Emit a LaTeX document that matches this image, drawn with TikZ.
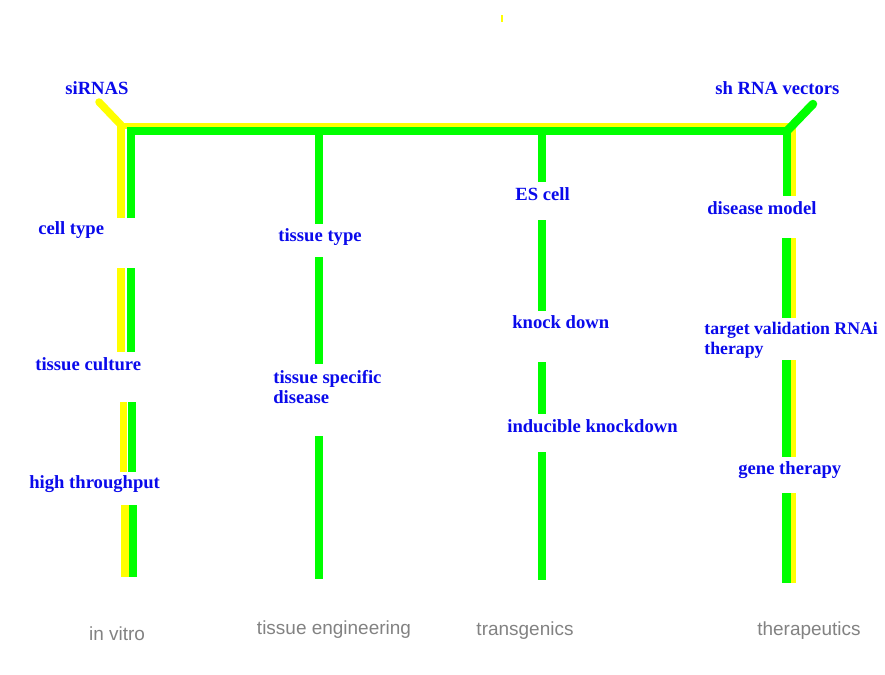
\documentclass[tikz,border=0pt]{standalone}
\usepackage{fontspec}
\setmainfont{Liberation Serif}
\newfontfamily\catfont{Liberation Sans}
\usetikzlibrary{positioning}
\definecolor{barGreen}{RGB}{0,255,0}
\definecolor{barYellow}{RGB}{255,255,0}
\definecolor{lblBlue}{RGB}{10,10,235}
\definecolor{catGray}{RGB}{130,130,130}
\tikzstyle{gbar} = [
  line width=0.17cm,
  barGreen,
]
\tikzstyle{ybar} = [
  line width=0.15cm,
  barYellow,
]
\tikzstyle{lbl} = [
  inner sep=0pt,
  anchor=west,
  align=left,
  text=lblBlue,
  font=\fontsize{10.6}{11.3}\selectfont\bfseries,
]
\tikzstyle{cat} = [
  inner sep=0pt,
  text=catGray,
  font=\catfont\fontsize{10.8}{13}\selectfont,
]

\begin{document}
\begin{tikzpicture}[x=0.02cm,y=-0.02cm]
  \useasboundingbox (0,0) rectangle (885,674);

  % yellow lines (behind)
  \draw[ybar,line cap=round] (99,102) -- (121,125);
  \draw[ybar,line width=0.12cm] (117,126) -- (792,126);
  \foreach \ya/\yb/\xx in {124/218/121,268/352/121,402/472/123.5,505/577/125}
    \draw[ybar] (\xx,\ya) -- (\xx,\yb);
  \foreach \ya/\yb in {124/196,238/318,360/457,493/583}
    \draw[ybar] (792.5,\ya) -- (792.5,\yb);
  \draw[barYellow,line width=0.04cm] (502,15) -- (502,22);

  % green lines
  \draw[gbar] (131,218) -- (131,131) -- (787,131) -- (787,196);
  \draw[gbar,line cap=round] (787,131) -- (813,104);
  \foreach \ya/\yb/\xx in {268/352/131,402/472/132,505/577/133}
    \draw[gbar] (\xx,\ya) -- (\xx,\yb);
  \foreach \ya/\yb in {131/224,257/364,436/579}
    \draw[gbar] (319,\ya) -- (319,\yb);
  \foreach \ya/\yb in {131/182,220/311,362/414,452/580}
    \draw[gbar] (542,\ya) -- (542,\yb);
  \foreach \ya/\yb in {238/318,360/457,493/583}
    \draw[gbar] (786.5,\ya) -- (786.5,\yb);

  % blue labels
  \node[lbl] (sirna)    at (65,88)   {siRNAS};
  \node[lbl] (shrna)    at (715,88)  {sh RNA vectors};

  \node[lbl] (celltype) at (38,230)  {cell type};
  \node[lbl] (culture)  at (35,364)  {tissue culture};
  \node[lbl] (highthr)  at (29,484)  {high throughput};

  \node[lbl] (tisstype) at (278,237) {tissue type};
  \node[lbl] (tissdis)  at (273,387) {tissue specific\\disease};

  \node[lbl] (escell)   at (515,194) {ES cell};
  \node[lbl] (knock)    at (512,322) {knock down};
  \node[lbl] (induc)    at (507,426) {inducible knockdown};

  \node[lbl] (dismodel) at (707,208) {disease model};
  \node[lbl,font=\fontsize{10.1}{11.3}\selectfont\bfseries]
             (target)   at (704,340) {target validation RNAi\\therapy};
  \node[lbl] (genether) at (738,470) {gene therapy};

  % grey column titles
  \node[cat] (invitro)  at (117,634) {in vitro};
  \node[cat] (tisseng)  at (334,630) {tissue engineering};
  \node[cat] (transgen) at (525,631) {transgenics};
  \node[cat] (therap)   at (809,631) {therapeutics};
\end{tikzpicture}
\end{document}
